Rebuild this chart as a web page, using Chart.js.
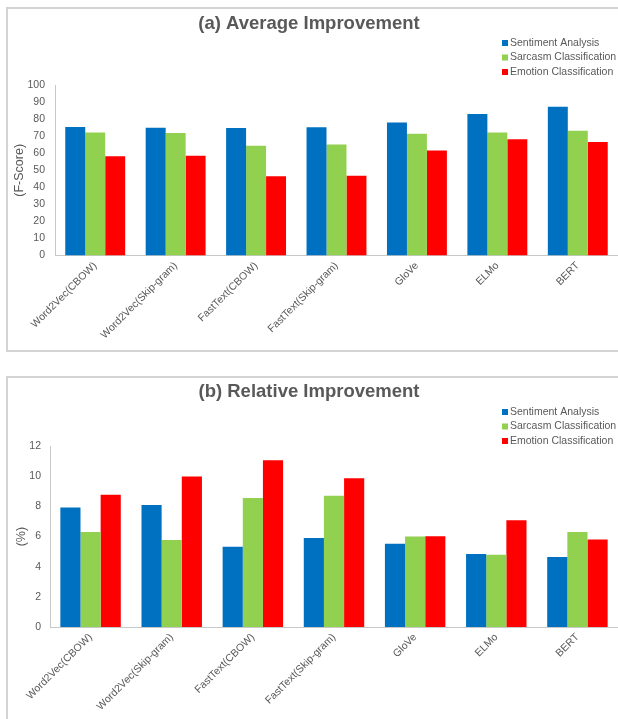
<!DOCTYPE html>
<html>
<head>
<meta charset="utf-8">
<script src="https://cdn.jsdelivr.net/npm/chart.js@4.4.1/dist/chart.umd.min.js"></script>
<style>
  body { margin: 0; width: 618px; height: 719px; overflow: hidden; background: #fff; position: relative; }
  .frame { position: absolute; border: 2px solid #d3d3d3; pointer-events: none; }
  .wrap { position: absolute; left: 0; width: 618px; }
</style>
</head>
<body>
<div class="frame" style="left:6px;top:7px;width:640px;height:341px"></div>
<div class="frame" style="left:6px;top:376px;width:640px;height:400px"></div>
<div class="wrap" style="top:0;height:350px"><canvas id="chartA" width="618" height="350"></canvas></div>
<div class="wrap" style="top:360px;height:359px"><canvas id="chartB" width="618" height="359"></canvas></div>
<script>
const categories = ["Word2Vec(CBOW)", "Word2Vec(Skip-gram)", "FastText(CBOW)", "FastText(Skip-gram)", "GloVe", "ELMo", "BERT"];
const seriesNames = ["Sentiment Analysis", "Sarcasm Classification", "Emotion Classification"];
const seriesColors = ["#0070C0", "#92D050", "#FF0000"];

// (a) average F-score
const avgSentiment = [75.5, 75.0, 74.8, 75.3, 78.1, 83.1, 87.4];
const avgSarcasm = [72.2, 72.0, 64.5, 65.2, 71.5, 72.2, 73.2];
const avgEmotion = [58.3, 58.6, 46.6, 46.8, 61.7, 68.2, 66.6];

// (b) relative improvement in %
const relSentiment = [7.93, 8.09, 5.33, 5.90, 5.52, 4.84, 4.64];
const relSarcasm = [6.30, 5.77, 8.57, 8.71, 6.01, 4.80, 6.30];
const relEmotion = [8.77, 9.99, 11.07, 9.88, 6.03, 7.09, 5.81];

const yTicksA = { min: 0, max: 100, step: 10 };
const yTicksB = { min: 0, max: 12, step: 2 };

const FONT = "'Liberation Sans', Arial, sans-serif";
const GREY = "#595959";

// legend drawn by hand, top right, stacked
const boxLegend = {
  id: "boxLegend",
  afterDraw(chart, args, opts) {
    const ctx = chart.ctx;
    ctx.save();
    ctx.font = "10.5px " + FONT;
    ctx.textBaseline = "middle";
    chart.data.datasets.forEach(function (ds, i) {
      const y = opts.y + i * opts.gap;
      ctx.fillStyle = ds.backgroundColor;
      ctx.fillRect(opts.x, y - 3, 6, 6);
      ctx.fillStyle = GREY;
      ctx.fillText(ds.label, opts.x + 8, y);
    });
    ctx.restore();
  }
};

function makeChart(id, cfg) {
  const ctx = document.getElementById(id).getContext("2d");
  return new Chart(ctx, {
    type: "bar",
    data: {
      labels: categories,
      datasets: cfg.values.map(function (vals, i) {
        return {
          label: seriesNames[i],
          data: vals,
          backgroundColor: seriesColors[i],
          borderWidth: 0,
          categoryPercentage: 0.745,
          barPercentage: 1.0
        };
      })
    },
    options: {
      responsive: false,
      animation: false,
      layout: { padding: 0 },
      plugins: {
        legend: { display: false },
        tooltip: { enabled: false },
        title: {
          display: true,
          text: cfg.title,
          color: GREY,
          font: { family: FONT, size: 18.5, weight: "bold" },
          padding: { top: cfg.titleTop, bottom: cfg.titleBottom }
        },
        boxLegend: { x: 502, y: cfg.legendY, gap: 14.5 }
      },
      scales: {
        x: {
          grid: { display: false, drawTicks: false },
          border: { display: true, color: "#c8c8c8" },
          ticks: {
            color: GREY,
            font: { family: FONT, size: 10.5 },
            minRotation: 45,
            maxRotation: 45,
            padding: 4
          },
          afterFit: function (s) { s.height = cfg.xHeight; }
        },
        y: {
          min: cfg.ticks.min,
          max: cfg.ticks.max,
          grid: { display: false, drawTicks: false },
          border: { display: true, color: "#c8c8c8" },
          ticks: {
            stepSize: cfg.ticks.step,
            color: GREY,
            font: { family: FONT, size: 10.5 },
            padding: cfg.tickPad
          },
          title: {
            display: true,
            text: cfg.yTitle,
            color: GREY,
            font: { family: FONT, size: 12.5 },
            padding: { top: cfg.yTitlePad, bottom: 0 }
          },
          afterFit: function (s) { s.width = cfg.axisX; }
        }
      }
    },
    plugins: [boxLegend]
  });
}

makeChart("chartA", {
  title: "(a) Average Improvement",
  yTitle: "(F-Score)",
  values: [avgSentiment, avgSarcasm, avgEmotion],
  ticks: yTicksA,
  titleTop: 13,
  titleBottom: 50,
  legendY: 43,
  xHeight: 94.5,
  axisX: 55,
  tickPad: 10,
  yTitlePad: 12
});

makeChart("chartB", {
  title: "(b) Relative Improvement",
  yTitle: "(%)",
  values: [relSentiment, relSarcasm, relEmotion],
  ticks: yTicksB,
  titleTop: 21,
  titleBottom: 43,
  legendY: 52,
  xHeight: 92,
  axisX: 50,
  tickPad: 9,
  yTitlePad: 14
});
</script>
</body>
</html>
